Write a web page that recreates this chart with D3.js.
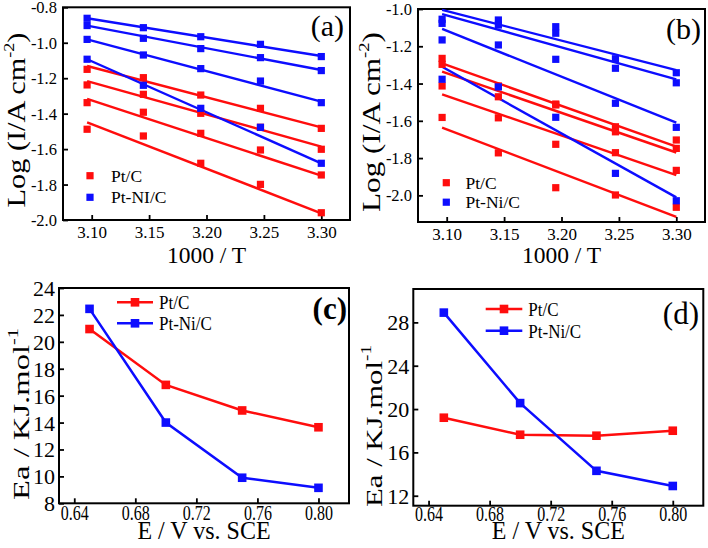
<!DOCTYPE html>
<html><head><meta charset="utf-8">
<script src="https://cdn.jsdelivr.net/npm/d3@7"></script>
<style>body{margin:0;background:#fff} svg text{font-family:"Liberation Serif","Times New Roman",serif;fill:#000}</style>
</head><body><svg id="chart" width="708" height="548"></svg>
<script>
// ---------- data ----------
const invT = [3.096, 3.145, 3.195, 3.247, 3.300];            // 1000 / T
const xTicksT = [3.10, 3.15, 3.20, 3.25, 3.30];
const yTicksA = [-2.0, -1.8, -1.6, -1.4, -1.2, -1.0, -0.8];
const yTicksB = [-2.0, -1.8, -1.6, -1.4, -1.2, -1.0];

// panel (a): log current, 4 potentials each
const ptcA = [
  [-1.150, -1.197, -1.295, -1.370, -1.483],
  [-1.238, -1.291, -1.398, -1.477, -1.601],
  [-1.338, -1.392, -1.511, -1.605, -1.746],
  [-1.488, -1.526, -1.680, -1.799, -1.959]];
const ptniA = [
  [-0.862, -0.915, -0.966, -1.009, -1.078],
  [-0.903, -0.975, -1.033, -1.084, -1.157],
  [-0.981, -1.069, -1.146, -1.216, -1.338],
  [-1.093, -1.240, -1.370, -1.477, -1.680]];
// fitted lines (value at first and last 1000/T)
const fitPtcA  = [[-1.131, -1.477], [-1.216, -1.586], [-1.317, -1.750], [-1.449, -1.962]];
const fitPtniA = [[-0.862, -1.075], [-0.903, -1.154], [-0.981, -1.332], [-1.093, -1.680]];

// panel (b)
const ptcB = [
  [-1.265, -1.413, -1.510, -1.632, -1.703],
  [-1.297, -1.471, -1.515, -1.659, -1.748],
  [-1.413, -1.584, -1.726, -1.771, -1.866],
  [-1.582, -1.772, -1.959, -1.998, -2.064]];
const ptniB = [
  [-1.055, -1.059, -1.095, -1.267, -1.342],
  [-1.077, -1.086, -1.130, -1.318, -1.396],
  [-1.166, -1.193, -1.270, -1.506, -1.635],
  [-1.377, -1.418, -1.581, -1.882, -2.029]];
const fitPtcB  = [[-1.292, -1.739], [-1.336, -1.770], [-1.458, -1.891], [-1.637, -2.115]];
const fitPtniB = [[-1.005, -1.328], [-1.027, -1.378], [-1.107, -1.610], [-1.310, -2.011]];

// panels (c), (d): activation energy vs potential
const potentials = [0.65, 0.70, 0.75, 0.80];
const eTicks = [0.64, 0.68, 0.72, 0.76, 0.80];
const eaPtcC  = [20.95, 16.80, 14.90, 13.65];
const eaPtniC = [22.45, 14.00, 9.90, 9.15];
const eaPtcD  = [19.20, 17.63, 17.54, 18.00];
const eaPtniD = [28.90, 20.55, 14.30, 12.90];
const yTicksC = [8, 10, 12, 14, 16, 18, 20, 22, 24];
const yTicksD = [12, 16, 20, 24, 28];

const seriesNames = ["Pt/C", "Pt-Ni/C"];
const seriesNamesA = ["Pt/C", "Pt-NI/C"];

// ---------- drawing ----------
const RED = "#ff0d0d", BLUE = "#0d0dff";
const svg = d3.select("#chart");
svg.append("rect").attr("width", 708).attr("height", 548).attr("fill", "#fff");

function txt(g, x, y, s, o = {}) {
  const t = g.append("text")
    .attr("transform", `translate(${x},${y})` + (o.rot ? " rotate(-90)" : "") + ` scale(${o.sx || 1},${o.sy || 1})`)
    .attr("font-size", o.size || 16)
    .attr("text-anchor", o.anchor || "start")
    .attr("font-weight", o.weight || "normal");
  if (typeof s === "string") t.text(s); else s(t);
  return t;
}

function panel(cfg) {
  const g = svg.append("g");
  const x = d3.scaleLinear().domain(cfg.xd).range([cfg.l, cfg.r]);
  const y = d3.scaleLinear().domain(cfg.yd).range([cfg.b, cfg.t]);
  const xa = g.append("g").attr("transform", `translate(0,${cfg.b})`)
    .call(d3.axisBottom(x).tickValues(cfg.xt).tickFormat(cfg.xf).tickSizeInner(-5).tickSizeOuter(0).tickPadding(0));
  const ya = g.append("g").attr("transform", `translate(${cfg.l},0)`)
    .call(d3.axisLeft(y).tickValues(cfg.yt).tickFormat(cfg.yf).tickSizeInner(-5).tickSizeOuter(0).tickPadding(cfg.ypad));
  [xa, ya].forEach(a => {
    a.attr("font-family", null).attr("font-size", null);
    a.select(".domain").remove();
    a.selectAll("line").attr("stroke", "#000").attr("stroke-width", 1.8);
  });
  xa.selectAll("text").attr("y", 0).attr("dy", "0.72em").attr("fill", "#000")
    .attr("font-size", cfg.xts)
    .attr("transform", `translate(0,${cfg.xpad}) scale(${cfg.xsx || 1},${cfg.xsy || 1})`);
  ya.selectAll("text").attr("fill", "#000").attr("font-size", cfg.yts).attr("dy", "0.34em");
  g.append("rect").attr("x", cfg.l).attr("y", cfg.t).attr("width", cfg.r - cfg.l).attr("height", cfg.b - cfg.t)
    .attr("fill", "none").attr("stroke", "#000").attr("stroke-width", 2);
  return { g, x, y };
}

const fmt2 = d => d3.format(".2f")(d);
const fmtY = d => d3.format(".1f")(d).replace("\u2212", "-");
const fmtI = d => String(d);

// ---- panels (a) and (b) ----
function arrhenius(cfg, ptc, ptni, fitPtc, fitPtni, names, label) {
  const p = panel(cfg);
  const { g, x, y } = p;
  const drawLines = (fits, col) => fits.forEach(f => {
    g.append("path").attr("d", d3.line()([[x(invT[0]), y(f[0])], [x(invT[invT.length - 1]), y(f[1])]]))
      .attr("stroke", col).attr("stroke-width", 2.4).attr("fill", "none");
  });
  const drawPts = (rows, col) => rows.forEach(r => {
    g.selectAll(null).data(r).enter().append("rect")
      .attr("x", (d, i) => x(invT[i]) - 3.6).attr("y", d => y(d) - 3.6)
      .attr("width", 7.2).attr("height", 7.2).attr("fill", col);
  });
  drawLines(fitPtc, RED); drawLines(fitPtni, BLUE);
  drawPts(ptc, RED); drawPts(ptni, BLUE);
  // legend
  [[RED, names[0]], [BLUE, names[1]]].forEach((d, i) => {
    g.append("rect").attr("x", cfg.lg[0] - 3.6).attr("y", cfg.lg[1] + i * cfg.lg[3] - 3.6)
      .attr("width", 7.2).attr("height", 7.2).attr("fill", d[0]);
    txt(g, cfg.lg[2], cfg.lg[1] + i * cfg.lg[3] + 6, d[1], { size: 17.5 });
  });
  txt(g, cfg.lab[0], cfg.lab[1], label, { size: 30, anchor: "end" });
  txt(g, (cfg.l + cfg.r) / 2, 263, "1000 / T", { size: 23.5, anchor: "middle" });
  const yt = txt(g, cfg.yl[0], cfg.yl[1], t => {
    t.append("tspan").text("Log (I/A cm");
    t.append("tspan").attr("font-size", 15).attr("dy", -11).text("-2");
    t.append("tspan").attr("dy", 11).text(")");
  }, { size: 25, anchor: "middle", rot: true });
  const len = yt.node().getComputedTextLength();
  yt.attr("transform", `translate(${cfg.yl[0]},${cfg.yl[1]}) rotate(-90) scale(${cfg.yl[2] / len},1)`);
}

arrhenius({ l: 63, r: 350, t: 7.3, b: 220, xd: [3.075, 3.325], yd: [-2.0, -0.8],
  xt: xTicksT, yt: yTicksA, xf: fmt2, yf: fmtY, xts: 17, yts: 16.5, xpad: 6, ypad: 6,
  lg: [90, 175.7, 111, 21.6], lab: [344, 36], yl: [25, 120, 175] },
  ptcA, ptniA, fitPtcA, fitPtniA, seriesNamesA, "(a)");

arrhenius({ l: 418, r: 705, t: 9, b: 222, xd: [3.075, 3.325], yd: [-2.143, -1.0],
  xt: xTicksT, yt: yTicksB, xf: fmt2, yf: fmtY, xts: 17, yts: 16.5, xpad: 6, ypad: 6,
  lg: [446.3, 182.7, 465.5, 19.5], lab: [701, 39], yl: [380, 122, 180] },
  ptcB, ptniB, fitPtcB, fitPtniB, seriesNames, "(b)");

// ---- panels (c) and (d) ----
function eaPanel(cfg, ptc, ptni, label, bold) {
  const p = panel(cfg);
  const { g, x, y } = p;
  [[ptc, RED], [ptni, BLUE]].forEach(([vals, col]) => {
    g.append("path").datum(vals)
      .attr("d", d3.line().x((d, i) => x(potentials[i])).y(d => y(d)))
      .attr("stroke", col).attr("stroke-width", 2.5).attr("fill", "none");
    g.selectAll(null).data(vals).enter().append("rect")
      .attr("x", (d, i) => x(potentials[i]) - 4.3).attr("y", d => y(d) - 4.3)
      .attr("width", 8.6).attr("height", 8.6).attr("fill", col);
  });
  [[RED, seriesNames[0]], [BLUE, seriesNames[1]]].forEach((d, i) => {
    const yy = cfg.lg[2] + i * cfg.lg[3];
    g.append("line").attr("x1", cfg.lg[0]).attr("x2", cfg.lg[1]).attr("y1", yy).attr("y2", yy)
      .attr("stroke", d[0]).attr("stroke-width", 2.5);
    const cx = (cfg.lg[0] + cfg.lg[1]) / 2;
    g.append("rect").attr("x", cx - 4.3).attr("y", yy - 4.3).attr("width", 8.6).attr("height", 8.6).attr("fill", d[0]);
    txt(g, cfg.lg[1] + 6, yy + 7, d[1], { size: 17, sy: 1.1 });
  });
  txt(g, cfg.lab[0], cfg.lab[1], label, { size: 31, anchor: "end", weight: bold ? "bold" : "normal" });
  txt(g, (cfg.l + cfg.r) / 2, 539, "E / V vs. SCE", { size: 24, anchor: "middle", sy: 1.08 });
  const yt = txt(g, cfg.yl[0], cfg.yl[1], t => {
    t.append("tspan").text("Ea / KJ.mol");
    t.append("tspan").attr("font-size", 14).attr("dy", -11).text("-1");
  }, { size: 22.5, anchor: "middle", rot: true });
  const len = yt.node().getComputedTextLength();
  yt.attr("transform", `translate(${cfg.yl[0]},${cfg.yl[1]}) rotate(-90) scale(${cfg.yl[2] / len},1)`);
}

eaPanel({ l: 59, r: 349, t: 288, b: 503.3, xd: [0.63, 0.82], yd: [8, 24],
  xt: eTicks, yt: yTicksC, xf: fmt2, yf: fmtI, xts: 20, xsx: 0.8, yts: 22, xpad: 2.5, ypad: 4,
  lg: [117, 153, 302.3, 21], lab: [347, 319], yl: [28.5, 414, 172] },
  eaPtcC, eaPtniC, "(c)", true);

eaPanel({ l: 413.3, r: 703.3, t: 289, b: 505.7, xd: [0.63, 0.82], yd: [11.08, 31.08],
  xt: eTicks, yt: yTicksD, xf: fmt2, yf: fmtI, xts: 20, xsx: 0.8, yts: 22, xpad: 1, ypad: 4,
  lg: [485.7, 522.3, 309, 21.7], lab: [699, 324], yl: [382, 426, 162] },
  eaPtcD, eaPtniD, "(d)", false);
</script>
</body></html>
